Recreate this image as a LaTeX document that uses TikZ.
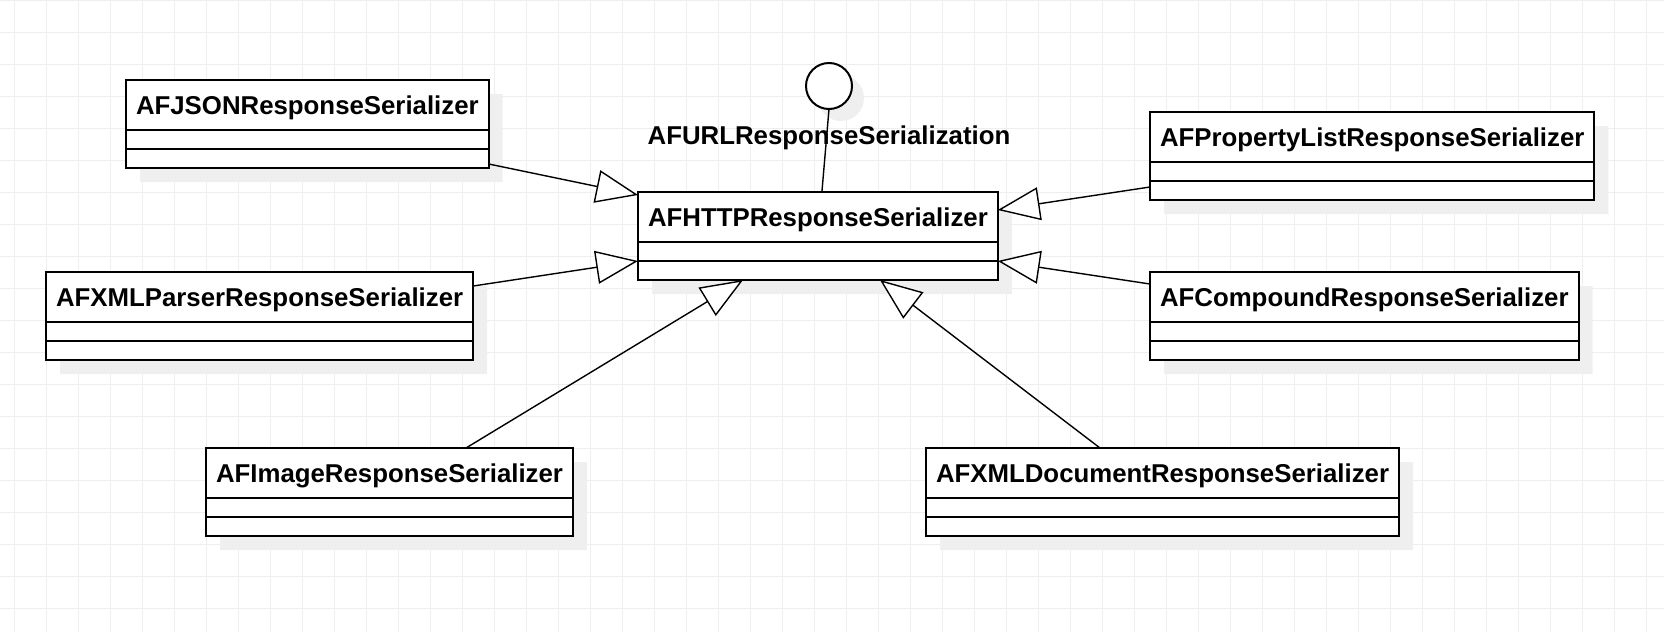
\documentclass[tikz,border=0pt]{standalone}
\usepackage{fontspec}
\setmainfont{Liberation Sans}
\usetikzlibrary{arrows.meta, shapes.multipart, shadows}

\definecolor{gridgray}{HTML}{EEEEEE}
\definecolor{shadowgray}{HTML}{EFEFEF}

\newcommand{\clsname}[1]{\rule[-7.3pt]{0pt}{24pt}#1}

\begin{document}
\begin{tikzpicture}[x=0.5pt, y=-0.5pt,
  >={Triangle[length=21pt, width=16.5pt, fill=white]},
  font=\fontsize{12.9}{15}\selectfont\bfseries,
  gridline/.style={gridgray, line width=0.5pt},
  umlclass/.style={draw, line width=1pt, fill=white, anchor=north west,
    rectangle split, rectangle split parts=3,
    rectangle split empty part height=8.5pt, rectangle split empty part depth=0pt,
    inner xsep=5pt, inner ysep=0pt, outer sep=0pt,
    drop shadow={shadow xshift=7pt, shadow yshift=-7pt, fill=shadowgray, opacity=1}},
  iface/.style={circle, draw, line width=1pt, fill=white, minimum size=23pt,
    inner sep=0pt, outer sep=0pt,
    drop shadow={shadow xshift=6pt, shadow yshift=-6pt, fill=shadowgray, opacity=1}},
  inherit/.style={->, line width=0.7pt}]

\useasboundingbox (0,0) rectangle (1664,632);

% background grid
\foreach \x in {14,46,...,1662}
\draw[gridline] (\x,0) -- (\x,632);
\foreach \y in {0,32,...,630}
\draw[gridline] (0,\y) -- (1664,\y);

\node[umlclass] (http) at (638,192) {\clsname{AFHTTPResponseSerializer}};

\node[umlclass] (json) at (126,80) {\clsname{AFJSONResponseSerializer}};
\node[umlclass] (xmlparser) at (46,272) {\clsname{AFXMLParserResponseSerializer}};
\node[umlclass] (image) at (206,448) {\clsname{AFImageResponseSerializer}};

\node[umlclass] (plist) at (1150,112) {\clsname{AFPropertyListResponseSerializer}};
\node[umlclass] (compound) at (1150,272) {\clsname{AFCompoundResponseSerializer}};
\node[umlclass] (xmldoc) at (926,448) {\clsname{AFXMLDocumentResponseSerializer}};

% protocol
\node[iface] (urlser) at (829,86) {};
\node[anchor=base] (urlserlabel) at (829,144) {AFURLResponseSerialization};
\draw[line width=0.7pt] (urlser.south) -- ([xshift=2pt]http.north);

%%%%%%
\draw[inherit] ([yshift=2pt]json.south east) -- ([yshift=-1.5pt]http.north west);
\draw[inherit] ([yshift=-7pt]xmlparser.north east) -- (http.two split west);
\draw[inherit] ([xshift=130pt]image.north west) -- ([xshift=52.5pt]http.south west);
\draw[inherit] ([xshift=87pt]xmldoc.north west) -- ([xshift=121pt]http.south west);
\draw[inherit] ([yshift=6.5pt]plist.south west) -- ([yshift=-9pt]http.north east);
\draw[inherit] ([yshift=-6pt]compound.north west) -- (http.two split east);

\end{tikzpicture}
\end{document}
